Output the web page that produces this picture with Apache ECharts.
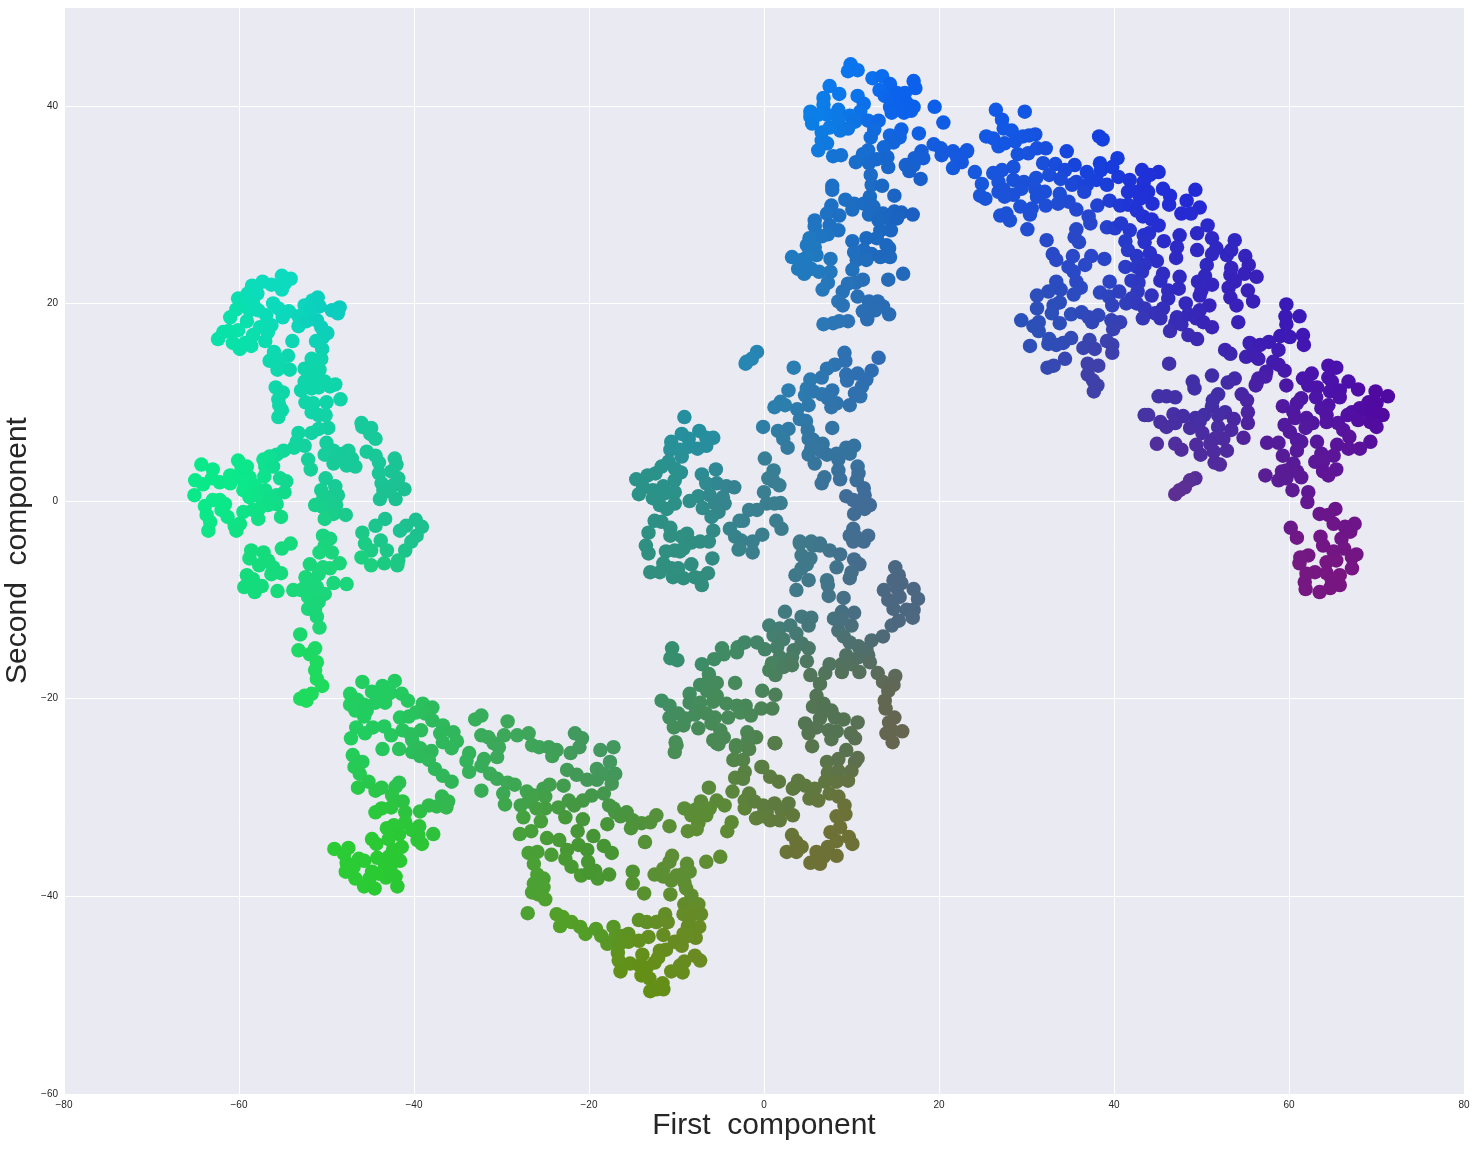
<!DOCTYPE html>
<html>
<head>
<meta charset="utf-8">
<title>First component / Second component</title>
<script src="https://cdn.jsdelivr.net/npm/echarts@6/dist/echarts.min.js"></script>
<style>
html, body { margin: 0; padding: 0; background: #fff; }
#main { width: 1476px; height: 1149px; }
</style>
</head>
<body>
<div id="main"></div>
<script>
// points, one array per blob, [first, second]
var leftTop = [[-55.1,22.8],[-54.1,22.5],[-54.8,22],[-55.1,21.4],[-56.3,21.9],[-57.3,22.2],[-58.5,21.8],[-59,21],[-57.9,21],[-60.1,20.5],[-59.1,20],[-58.4,20],[-60.3,19.4],[-61,18.6],[-58.8,19.3],[-57.8,19.3],[-56.9,18.8],[-56.1,20],[-55.5,19.5],[-54.3,19.2],[-55,18.6],[-52.5,19.8],[-51.6,20.3],[-51,20.6],[-50.8,19.7],[-51.9,19.3],[-52.5,18.8],[-53.2,18.7],[-53.2,17.7],[-52.3,18.2],[-51.1,18.3],[-50.6,17.6],[-49.9,17],[-50.4,16.6],[-51.2,16.2],[-50.5,15.4],[-50.6,14.4],[-51.7,14.4],[-49.4,19.3],[-48.5,19.6],[-48.7,19],[-56.3,17.8],[-57,17.5],[-57.6,17.6],[-59.1,18.2],[-60.1,17.3],[-61.2,17.2],[-61.8,17.1],[-62.4,16.4],[-60.7,16],[-59.9,15.4],[-59.3,16],[-58.6,15.7],[-58.4,16.8],[-57,16.2],[-56.7,17.1],[-53.9,16.2],[-56,15.1],[-56.5,14.2],[-54.4,14.7],[-55.3,14.3],[-55.6,13.3],[-54.2,13.3],[-52.5,13.4],[-51.5,13.6],[-50.8,13.3],[-51.9,12.7],[-52.5,12.1],[-51.1,12.1],[-51.7,11.4],[-52.9,11.2],[-50.2,12.1],[-49.6,11.6],[-49,11.8],[-50.9,11.5],[-55.8,11.5],[-55,11],[-55.5,10.3],[-55.1,9.2],[-55.4,9.7],[-55.5,8.5],[-52.4,10],[-51.5,9.9],[-50,10],[-48.4,10.3],[-51.7,9],[-50.9,8.7],[-50.1,8.7],[-49.8,7.4],[-50.9,7.3],[-51.7,6.9],[-53.2,6.9],[-53.4,6],[-52.5,5.6],[-53.7,5.4],[-46,7.9],[-44.9,7.4],[-45.9,7.5],[-45,6.8],[-44.4,6.3]];
var leftMid = [[-50,5.9],[-49.2,5.1],[-50.2,4.7],[-49.2,3.8],[-52.1,4.2],[-51.8,3.2],[-47.5,5.1],[-48.1,4.8],[-47.1,4.3],[-47.7,3.6],[-46.7,3.5],[-48.3,4.3],[-45.4,5],[-44.4,4.6],[-44,3.9],[-42.2,4.3],[-42,3.7],[-42.6,3],[-44,2.8],[-41.8,2.3],[-42.4,1.6],[-43.7,1.8],[-43.5,1.1],[-41.1,1.2],[-42.8,1.1],[-43.9,0.2],[-42.1,0.2],[-43,1],[-54.9,5.1],[-55.7,4.7],[-56.5,4.5],[-57.2,4.2],[-57,3.5],[-56.1,3.5],[-57.1,2.5],[-64.3,3.7],[-60.1,4.1],[-63,3.2],[-65,2.1],[-64.1,1.7],[-63.1,2.3],[-62.2,1.9],[-61,2.6],[-61,1.8],[-59.7,3.3],[-59.1,3.5],[-59.9,2.6],[-58.8,2.4],[-59.4,1.9],[-58.2,1.6],[-59.5,1.1],[-58.8,0.4],[-57.8,0.8],[-57,1.1],[-57.4,0.2],[-56.5,0.4],[-55.7,-0.3],[-56.7,-0.4],[-55.7,0.6],[-54.8,0.9],[-55.3,2.3],[-54.6,2],[-65.1,0.6],[-63.9,-0.5],[-63,0.1],[-62.2,0.1],[-61.6,-0.3],[-62,-0.9],[-61.3,-1.6],[-63.7,-1.4],[-63.3,-2.1],[-63.5,-3],[-59.5,-1.1],[-59.9,-2.3],[-60.5,-2.5],[-60.3,-3],[-57.8,-0.9],[-57.8,-1.8],[-55.2,-1.6],[-58.4,-0.9],[-50.1,2.3],[-49,1.5],[-50.6,1.1],[-48.7,0.6],[-49.6,0.4],[-50.4,0.2],[-48.9,-0.4],[-51.3,-0.4],[-50.4,-0.6],[-49.2,-1.3],[-50.2,-1.8],[-47.8,-1.4],[-43.3,-1.8],[-44.4,-2.5],[-39.8,-1.9],[-39.1,-2.6],[-40.9,-2.5],[-41.6,-3],[-39.7,-3.5],[-40.3,-4.1],[-41,-5],[-41.8,-6],[-41.9,-6.5],[-45.9,-3.2],[-45.6,-4.3],[-43.8,-4],[-44.9,-5],[-43.1,-5],[-46,-5.7],[-44.9,-6.5],[-43.4,-6.3]];
var leftLow = [[-50.4,-3.5],[-49.6,-3.8],[-50.2,-4.5],[-49.4,-5.2],[-50.8,-5.2],[-48.5,-6.3],[-51.9,-6.4],[-49.6,-6.8],[-50.4,-6.7],[-50.9,-7.4],[-52.4,-7.7],[-49.2,-8.3],[-47.7,-8.4],[-51.5,-8],[-51.1,-8.7],[-52.3,-8.4],[-53.8,-9],[-52.9,-9],[-51.5,-9.2],[-50.2,-9.4],[-52.1,-9.7],[-50.9,-10.2],[-52.1,-10.9],[-51.3,-10.9],[-51.1,-11.7],[-50.8,-12.8],[-54.1,-4.3],[-55.1,-4.8],[-58.6,-5],[-58.8,-5.8],[-57.2,-5.2],[-56.7,-6],[-57.7,-6.5],[-56.1,-6.7],[-55.2,-7.3],[-56.3,-7.4],[-59.1,-7.5],[-58.4,-7.9],[-58.8,-8.4],[-57.4,-8.6],[-59.4,-8.7],[-58.2,-9.2],[-55.6,-9.1],[-53,-13.5],[-53.2,-15.1],[-51.3,-14.9],[-51.9,-15.5],[-51.1,-16.3],[-51.3,-17.1],[-51.1,-18],[-50.5,-18.7],[-51.7,-19.5],[-52.5,-19.7],[-53,-20],[-52.3,-20.2]];
var bottomLeft = [[-45.9,-18.3],[-42.2,-18.2],[-47.3,-19.5],[-44.8,-19.3],[-43.6,-18.7],[-42.7,-19.4],[-44.2,-19.8],[-43.3,-20.4],[-44.4,-20.4],[-41.4,-19.5],[-40.7,-20.2],[-47.3,-20.6],[-46.5,-20.1],[-46.7,-21.2],[-45.7,-20.6],[-45.4,-21.2],[-45.7,-21.8],[-39,-20.5],[-37.9,-20.9],[-39.8,-21.4],[-41.6,-21.9],[-40.6,-21.8],[-38.7,-21.5],[-37.9,-22.2],[-36.7,-22.7],[-37,-23.5],[-35.5,-23.4],[-36.7,-24.4],[-35.1,-24.3],[-35.7,-25],[-46.6,-22.9],[-45.6,-23.5],[-47.2,-24],[-44.7,-22.9],[-43.4,-22.8],[-42.6,-23.7],[-41.3,-23.2],[-39.2,-23.2],[-40.4,-23.6],[-40.2,-24.2],[-43.6,-25.1],[-41.7,-25.1],[-40.2,-25.4],[-39.3,-25],[-39.3,-25.8],[-38,-25.3],[-38.3,-26.2],[-37.6,-27.1],[-36.7,-27.8],[-35.7,-28.4],[-47,-25.7],[-45.9,-26.4],[-46.8,-26.9],[-46.2,-27.6],[-45.2,-28.4],[-46.4,-29],[-44.4,-29.3],[-43.7,-29],[-41.7,-28.5],[-42.1,-28.9],[-42.5,-29.8],[-41.3,-30.4],[-42.6,-31],[-43.7,-31.1],[-44.4,-31.5],[-41,-31.5],[-41,-32.5],[-39.3,-31.4],[-38.3,-30.8],[-37.4,-30.9],[-36.8,-29.9],[-36.1,-30.4],[-36.3,-31],[-42.3,-32.8],[-43.1,-33.1],[-42.9,-34.2],[-41.7,-33.7],[-39.4,-32.9],[-40.2,-33.3],[-37.8,-33.7],[-39.6,-34.3],[-39.1,-34.7],[-39.5,-33.8],[-44.8,-34.2],[-44.3,-34.7],[-41.4,-35],[-42.4,-35.3],[-44.2,-36.1],[-42.9,-36],[-41.6,-36.4],[-42.5,-36.5],[-43.3,-36.9],[-42.7,-37.2],[-44.8,-37.5],[-42.1,-38],[-43.2,-38.1],[-44,-37.7],[-41.9,-39],[-45.1,-38.2],[-45.7,-39],[-44.5,-39.2],[-49.1,-35.2],[-47.5,-35.1],[-48,-35.7],[-47.7,-36.6],[-46.3,-36.2],[-45.7,-36.4],[-46.9,-37],[-47.8,-37.5],[-46.7,-38.2]];
var bottomMid = [[-33.7,-25.5],[-34,-26.3],[-33,-22.1],[-32.3,-21.7],[-32.3,-23.7],[-31.5,-23.9],[-29.3,-22.3],[-29.7,-23.7],[-28.2,-23.7],[-26.9,-23.5],[-26.5,-24.7],[-25.7,-24.9],[-24.6,-24.9],[-23.7,-25.2],[-24.2,-25.8],[-21.6,-23.5],[-20.8,-24],[-21.1,-24.9],[-22.1,-25.5],[-18.7,-25.2],[-17.2,-24.9],[-17.6,-26.4],[-30.9,-24.5],[-30.3,-24.9],[-30.5,-25.9],[-32,-26.1],[-32.3,-26.8],[-33.7,-27.4],[-31.3,-27.6],[-30.5,-28.1],[-29.3,-28.5],[-28.5,-28.7],[-32.3,-29.3],[-29.8,-29.6],[-29.6,-30.7],[-22.5,-27.2],[-22.9,-28.8],[-21.4,-27.7],[-20.2,-28.2],[-19.1,-27.1],[-18.3,-27.6],[-19.1,-28.2],[-17,-27.6],[-17.4,-28.6],[-18.3,-29.6],[-19.7,-29.8],[-20.7,-30.3],[-22.3,-30.3],[-21.7,-30.8],[-23.5,-31],[-22.7,-32],[-17.7,-30.8],[-17,-31.5],[-17.9,-32.7],[-20.7,-32.2],[-27.1,-29.4],[-25.2,-29.1],[-24.5,-28.7],[-26.3,-29.8],[-27.8,-30.8],[-26.9,-30.4],[-25,-29.9],[-25,-31.1],[-26,-31.1],[-27.5,-32],[-25.5,-32.4],[-26.6,-33.4],[-27.9,-33.7],[-24.8,-34.1],[-23.4,-34.3],[-24.3,-35.8],[-22.5,-35.3],[-21.3,-33.4],[-21.2,-34.8],[-20.2,-35.3],[-19.5,-33.9],[-18.3,-34.9],[-17.4,-35.6],[-22.7,-36.2],[-22,-37],[-20.1,-36.5],[-20.9,-37.9],[-19.3,-37.4],[-19,-38.2],[-17.7,-37.8],[-20,-37.6],[-26.9,-35.6],[-25.9,-35.5],[-26.3,-36.7],[-25.9,-37.8],[-25.2,-38.2],[-26.3,-38.7],[-25.2,-39.1],[-26.5,-39.6],[-25.8,-39.8],[-25,-40.3],[-27,-41.7]];
var bottomLow = [[-23.7,-41.8],[-23,-42.1],[-23.3,-43],[-22,-42.6],[-21,-43.1],[-20.4,-43.8],[-19.2,-43.3],[-18.6,-44],[-17.9,-44.8],[-17.2,-43.1],[-17,-44.1],[-16.2,-44],[-15.5,-43.8],[-15.5,-44.6],[-14.3,-44.5],[-16.5,-44.8],[-16.7,-45.7],[-16.6,-46.5],[-16.4,-47.6],[-15.3,-46.8],[-14.2,-47],[-13.9,-45.9],[-14,-48],[-13.1,-48.3],[-13.4,-47.2],[-12.5,-46.7],[-11.9,-45.5],[-11.2,-45.4],[-12.1,-46.2],[-13,-49.6],[-12.3,-49.4],[-11.5,-49.4],[-11.6,-48.8],[-10.6,-47.6],[-9.3,-47.7],[-9.6,-47],[-9.1,-46.6],[-7.9,-46],[-7.3,-46.5],[-14.3,-42.4],[-13.4,-42.6],[-12.3,-42.6],[-11.3,-41.8],[-11,-42.6],[-13.2,-44.1],[-11.5,-43.9],[-15,-37.5],[-15,-38.7],[-13.7,-39.7],[-12.5,-37.8],[-11.5,-37.2],[-10.8,-36.5],[-10.5,-35.9],[-11.5,-38],[-10.6,-38.4],[-10.7,-39.8],[-10,-37.9],[-9.2,-37.7],[-8.8,-36.7],[-8.5,-37.5],[-9.1,-38.6],[-8.9,-39.2],[-8.3,-39.9],[-9.1,-40.8],[-7.5,-40.8],[-9.2,-41.8],[-8.1,-41.3],[-7.2,-41.8],[-8.5,-42.1],[-7.4,-43.1],[-8.7,-43],[-9.2,-43.8],[-7.8,-44.2],[-10.2,-44.6],[-9.4,-45],[-8.7,-44],[-6.6,-36.5],[-5,-36]];
var centerLow = [[-17.2,-31.1],[-15.7,-31.5],[-16.4,-31.9],[-15,-32.3],[-15.2,-33.1],[-14,-32.6],[-13,-32.5],[-12.3,-31.8],[-13.6,-34.5],[-10.8,-32.9],[-9.1,-31.1],[-7.2,-30.4],[-7.8,-31.2],[-8.3,-31.8],[-7.5,-32.6],[-8.7,-33.4],[-7.7,-33.2],[-6.6,-31.8],[-6.2,-31.1],[-5.4,-30.3],[-4.5,-30.8],[-6.3,-29],[-3.6,-29.4],[-3.7,-32.5],[-4.2,-33.4],[-3.5,-26.2],[-2.4,-26.2],[-2.2,-27.4],[-3.3,-28],[-2.4,-28.1],[-0.2,-26.9],[0.7,-27.9],[1.7,-28.4],[-3.2,-24.7],[-1.8,-25],[1.2,-24.5],[-1.7,-29.6],[-2.2,-30.3],[-2.2,-31.1],[-1.1,-30.4],[-0.1,-30.8],[-0.9,-32.1],[0.3,-31.5],[0.7,-32.3],[1.2,-30.6],[2,-31.3],[1.8,-32.3],[2.8,-30.6],[3.3,-31.8],[-0.3,-31.9],[3.3,-29.1],[3.9,-28.3],[3.2,-33.8],[2.6,-35.5],[3.7,-35.5],[-10.2,-25.4],[-10,-24.7],[-5.4,-24.5],[-10.5,-14.9],[-10.7,-15.9],[-9.9,-16.1],[-7.1,-16.5],[-5.7,-16],[-4.8,-14.9],[-4.6,-15.5],[-3.1,-15.3],[-3,-14.8],[-2.2,-14.3],[-0.8,-14.3],[0.1,-15],[-6.3,-17.5],[-7.3,-18.6],[-5.4,-18.4],[-6.4,-18.3],[-6.5,-19.2],[-5.4,-19.7],[-8.5,-19.5],[-8.5,-20.4],[-7.3,-20.4],[-5.8,-20.3],[-3.3,-18.4],[-11.7,-20.2],[-10.8,-20.7],[-10.8,-21.9],[-9.8,-21.5],[-10.3,-22.9],[-9.2,-22.7],[-7.9,-21.6],[-9,-22],[-7.5,-23],[-6.6,-21.5],[-5.6,-21.9],[-6,-22.5],[-4.1,-21.9],[-5,-23.2],[-5.8,-24.2],[-5.2,-24.6],[-4.6,-23.9],[-4.3,-20.5],[-3.1,-20.7],[-2.1,-20.7],[-2.7,-21.4],[-1.5,-21.7],[-0.3,-21],[0.95,-21],[-0.2,-19.2],[1.3,-19.6],[-10.1,-24.4],[-1.9,-23.4],[-0.9,-23.9],[-1.8,-24.1],[-3.2,-24.9],[-1.7,-25.1],[1.3,-24.5],[-3.4,-26.2],[-0.3,-26.9]];
var centerRing = [[2.4,-11.2],[4.3,-11.7],[5.4,-11.8],[5.1,-12.6],[0.6,-12.6],[1.8,-12.9],[3,-12.6],[1.1,-13.6],[3.7,-13.4],[2.2,-14],[4.3,-14.4],[5.1,-14.9],[1.5,-14.8],[3.4,-15.1],[1.8,-15.8],[3.2,-15.8],[0.9,-16.4],[0.6,-17.1],[1.3,-17.6],[2.2,-16.8],[3.2,-16.6],[4.9,-16.2],[5.3,-17.6],[7,-17.4],[7.5,-16.5],[8.9,-17.3],[8.9,-16.5],[9.4,-15.6],[10,-16.5],[10.9,-17.3],[10.8,-15.8],[11.9,-15.6],[12.1,-16.3],[11.7,-15],[10.8,-14.7],[12.3,-14.1],[13.6,-13.7],[14.6,-12.6],[15.4,-12.1],[6.4,-18.5],[6,-19.7],[5.6,-20.8],[6.8,-20.5],[6.8,-21.3],[7.7,-21.2],[6.4,-22],[8.1,-21.9],[9.1,-22.1],[10.7,-22.4],[4.7,-22.5],[5.1,-23.5],[5.5,-24.8],[6,-22.9],[7.4,-23.2],[8.3,-23.3],[7.7,-24.1],[9.9,-23.5],[10.4,-24],[9.4,-25.2],[7.2,-26.4],[8.5,-26.1],[10.4,-26.4],[10.7,-26],[7.3,-27.5],[8.5,-27.3],[10,-27.3],[7,-28.4],[8.3,-28.4],[9.6,-28.3],[3.4,-29],[4.7,-28.8],[5.8,-29.1],[5.2,-30.1],[6.2,-30.3],[7.5,-29.6],[8.5,-29.9],[9.2,-30.8],[9.3,-31.7],[8.3,-31.9],[8.7,-33],[7.6,-33.5],[9.7,-34],[10.1,-34.7],[7.3,-35],[8.3,-34.4],[8.3,-35.9],[6,-35.5],[6.8,-36],[5.3,-36.6],[6.4,-36.7],[3.7,-34.5],[4.3,-35],[3.7,-35.4]];
var rightArc = [[4.3,-5.5],[4.1,-4.3],[5.6,-4.5],[6.4,-4.3],[5.3,-5.8],[4.9,-6.4],[3.6,-7.5],[4.3,-6.8],[5.1,-8],[3.7,-9],[7.5,-5],[8.7,-5.4],[8.3,-6.7],[10.3,-5.9],[10.9,-6.4],[10,-7.2],[9.8,-7.8],[7.2,-8],[7.3,-8.5],[7.4,-9.6],[9.1,-9.8],[15,-6.7],[15.4,-7.5],[14.8,-8],[15.7,-8.3],[13.7,-9],[15.2,-8.8],[17.1,-8.9],[17.6,-9.9],[15.5,-9.7],[14.2,-10],[14.8,-10.9],[16.3,-11],[17.1,-11],[17,-11.8],[8.9,-11.2],[8,-11.9],[10.3,-11.3],[10,-12.6],[8.5,-13.1],[9.1,-13.7],[9.8,-14.3],[8.9,-12],[13,-17.4],[15,-17.7],[13.6,-18.3],[14.8,-18.6],[14.2,-19.2],[13.8,-20.2],[13.9,-21],[14.9,-21.9],[14.3,-22.4],[15.8,-23.3],[14,-23.5],[14.6,-23.2],[14.7,-24.4]];
var centerUp = [[-0.8,15.1],[-1.4,14.4],[-2.1,13.9],[-2,14.1],[3.4,13.5],[9.2,15],[9.3,14.2],[8.1,13.8],[7.2,13.4],[13.1,14.5],[12.3,13.2],[9.4,12.8],[9.5,12.2],[10.7,12.9],[11.7,12.3],[11.2,11.6],[10.4,10.9],[11,10.6],[9.8,9.7],[6.6,12.5],[5.3,12.3],[4.9,11.4],[4.7,10.7],[5.6,11.1],[6.6,10.8],[7.8,11.2],[7.3,10.4],[8.3,9.9],[7.7,9.5],[5.1,9.7],[2.8,11.2],[1.9,10.05],[2.4,9.7],[1.2,9.5],[3.8,9.3],[4.1,8.3],[4.8,8.1],[5,7.2],[7.8,7.4],[5.1,6.3],[5.6,6.2],[6.7,5.8],[5.4,5.3],[5.1,4.7],[6.6,5],[5.8,3.8],[7.2,4.7],[8.3,4.8],[8.5,4.2],[9.4,5.4],[10.3,5.6],[9.8,4.8],[8.5,3.1],[8.7,2.2],[10.7,3.5],[10.8,2.8],[10.6,2.1],[11.4,1.3],[11.5,0.6],[6.9,2.4],[6.6,1.8],[9.4,0.5],[10.2,0.1],[11,-0.4],[12.1,-0.4],[11.5,-0.8],[10.3,-1.3],[10.2,-2.8],[9.8,-3.5],[11.9,-3.5],[10.5,-3.6],[11.4,-4.1],[10.2,-4.1],[-0.1,7.5],[1.6,7.1],[2.8,7.3],[2.2,6.3],[2.7,5.4],[0.1,4.3],[1.1,3.1],[0.5,2.3],[1.75,1.6],[1.1,2],[0,0.9],[0.3,-0.25],[1.2,-0.25],[1.9,-0.2],[1.4,-2],[2,-2.8],[-0.2,-3.4],[-0.8,-0.9],[-1.7,-0.9],[-2.4,-2],[-2.8,-2],[-3.9,-2.8],[-3.3,-3.6],[-2.6,-4],[-1.3,-4.1],[-2.9,-4.9],[-1.3,-5.2],[4.1,-4.1],[5.4,-4.1],[6.4,-4.5]];
var centerLeft = [[-9.1,8.5],[-7.4,7.1],[-9.4,6.8],[-10.6,6],[-8.6,6.3],[-6.6,6.4],[-5.8,6.4],[-6.6,5.6],[-7.6,5.3],[-8.6,5.5],[-10.7,5.2],[-9.6,5.2],[-9.4,4.5],[-10.9,4],[-11.7,3.5],[-9.5,2.9],[-10.2,3.3],[-12.4,2.8],[-13.3,2.6],[-14.6,2.2],[-10.2,2.1],[-11.5,1.5],[-12.7,1.1],[-13.8,1.4],[-14.3,0.7],[-10.2,0.9],[-11.3,0.8],[-12.7,0.3],[-10.2,-0.25],[-11.9,-0.4],[-11.1,-0.8],[-5.5,3.2],[-7.1,2.7],[-6.6,1.8],[-5.4,1.8],[-4.3,1.5],[-3.4,1.4],[-7.5,0.5],[-8.5,0],[-6.2,0.6],[-4.7,0.4],[-5.6,-0.25],[-4.5,-0.25],[-7,-0.7],[-5.2,-1.1],[-6,-1.6],[-12.5,-2],[-11.7,-2.1],[-13.2,-3.2],[-10.7,-2.7],[-10.7,-3.5],[-13.5,-4.5],[-13.2,-5.3],[-11.2,-5.1],[-8.8,-3.3],[-9.4,-3.6],[-8.3,-4.2],[-7.3,-4.1],[-6.3,-4.1],[-5.8,-3],[-9.2,-4.8],[-10.2,-5],[-5.9,-5.8],[-9.6,-5.1],[-8.3,-6.4],[-11.5,-6.3],[-10.6,-6.8],[-13,-7.2],[-11.9,-7.2],[-10.4,-7.7],[-9.2,-7.8],[-7.9,-7.7],[-6.4,-7.3],[-7.1,-8.5],[-7.2,-7.8],[-9.8,-6.8],[-2.8,-4.8]];
var topBlob = [[9.9,44.2],[9.6,43.5],[10.7,43.6],[12.4,42.8],[13.5,43],[17.1,42.5],[17.3,41.8],[14.4,42.2],[13.2,41.6],[15.2,41.3],[16.1,41.3],[13.8,41],[14.6,40.6],[15.7,40.6],[16.3,40.3],[14.4,39.9],[15.4,39.8],[17.1,39.9],[14.6,39.3],[16,39.3],[16.8,39.5],[7.5,42],[8.6,41.2],[6.8,40.8],[6.8,40.1],[10.7,41],[11.4,40.2],[8.5,39.6],[11,39.4],[5.3,39.4],[5.3,38.9],[7.2,39.1],[6.2,39.1],[5.5,38.2],[9.8,39],[8.5,38.6],[10.4,38.4],[9.6,37.7],[8.7,37.5],[7.5,37.8],[6.6,37.3],[6.6,36.5],[7.2,36.2],[6.2,35.5],[7.9,34.9],[8.8,35],[11.9,38.5],[13.1,38.5],[12.6,37.6],[12.2,36.8],[15.7,37.6],[14.4,37],[15.5,36.8],[14.8,36.3],[13.7,35.8],[17.7,37.2],[19.5,39.9],[20.5,38.3],[19.4,36.1],[20.2,35.7],[20.3,35],[21.6,35.4],[22.6,35],[23.2,35.5],[22.1,34.7],[21.6,33.7],[18,35.4],[18.2,34.7],[17.2,34.7],[16.2,34],[17.1,34],[16.6,33.4],[17.9,32.6],[11.9,35.5],[11.3,35.1],[10.5,34.3],[12,34.2],[12.9,34.6],[14.1,34.8],[14.2,33.8],[12.2,33],[12.3,32],[13.5,31.9],[14.9,30.9],[7.8,31.9],[7.8,31.5],[9.3,30.5],[10.1,29.5],[10.3,30.1],[11.4,30.1],[12.1,30.8],[12.5,29.8],[12,29]];
var midBlob = [[13.6,29.1],[14.9,29.3],[15.7,29.2],[17,29],[14.2,28.6],[15.2,28.6],[13.1,28.4],[13.3,27.4],[14.5,27.4],[11.7,26.6],[12.9,26.6],[10.1,26.3],[14,25.9],[14.3,25.6],[11.4,25.4],[10.3,25.2],[12.3,25],[13.3,24.7],[14.4,24.7],[10.6,24.4],[11.7,24.4],[10.1,23.4],[7.7,29.9],[7.2,29.1],[8.6,28.9],[5.8,28.4],[5.8,27.8],[8.5,27.4],[7.5,27.9],[7.3,27],[6.6,26.8],[5.2,26.6],[4.9,25.9],[5.8,25.7],[6,24.9],[4.9,24.7],[3.2,24.7],[4.3,24.4],[7.6,24.5],[3.9,23.5],[4.6,23],[5.4,23.5],[6.3,23.2],[7.6,23.2],[15.9,23],[14.2,22.4],[7.3,22.1],[6.7,21.4],[11.3,22.4],[10.5,22.1],[9.6,22],[9,21.2],[8.5,20.2],[9,19.8],[10.7,20.7],[12,20.2],[13,20.2],[13.6,19.7],[11.3,19.2],[12.7,19.3],[14.3,18.9],[11.8,18.4],[9.6,18.2],[8.6,18.2],[7.9,18],[6.8,17.9]];
var armUpper = [[26.5,39.6],[29.8,39.4],[27.2,38.6],[27.4,37.7],[28.3,37.5],[25.4,36.9],[26.2,36.7],[26.8,35.9],[27.5,36.2],[28.7,36.4],[29.6,36.9],[31,37.1],[30.3,37],[29,35.1],[30.2,35.2],[31.2,35.7],[32.2,35.7],[34.6,35.4],[38.3,36.9],[38.7,36.6],[40.4,34.7],[23.2,35.4],[22.6,34.3],[24.1,33.3],[26.2,33.2],[27.2,33.5],[28.5,33.8],[24.9,32.1],[26.8,32.3],[28.5,32.5],[29.7,32.3],[27.4,31.5],[26.8,31.3],[28.5,31],[29.4,31.6],[24.7,30.9],[25.3,30.6],[27.5,30.8],[31.9,34.2],[33.3,34.1],[35.5,34],[34.4,33.5],[36.9,33.3],[38.4,34.2],[38.5,33.5],[39.8,33.8],[43.2,33.5],[45.1,33.3],[44.1,33],[32.6,33],[33.9,32.6],[31.1,32.7],[35.7,32.3],[35.2,32],[36.9,32],[38,32.5],[39.2,32],[40.5,32.8],[41.8,32.5],[43.4,32.3],[31,31.6],[32.1,31.3],[36.6,31.3],[41.6,31.3],[42.6,31.3],[43.9,31.3],[45.6,31.6],[49.3,31.5],[46.4,30.9],[31.2,30.8],[33.8,31.1],[34.8,30.3],[33.6,30.1],[32.2,29.9],[30.6,29.6],[29.3,29.8],[30.4,29],[35.7,29.5],[38.1,29.9],[39.5,30.4],[40.7,29.9],[41.6,30],[43,30.6],[42.6,29.4],[44.4,30.1],[46.3,30],[48.3,30.4],[49.8,29.7],[47.7,29.1],[48.8,29.1],[27,28.9],[28.1,28.4],[27.7,29.1],[30.1,27.5],[32.3,26.4],[37.1,28.8],[37.3,28.1],[35.7,27.5],[35.5,26.7],[36,26.2]];
var armMid = [[39.2,27.7],[40.1,27.6],[40.8,28.1],[41.8,27.4],[43.3,28.8],[44.3,28.5],[45.1,27.9],[43.4,26.9],[44,27.1],[43.5,26.2],[41.3,26.3],[45.7,26.3],[47.5,26.9],[47.2,25.7],[49.5,27.1],[50.7,27.9],[51.2,26.6],[53.8,26.4],[49.5,25.4],[51.7,25.6],[51.2,25],[52.9,24.9],[53.4,25.4],[33,25],[33.4,24.4],[35.3,24.8],[37.4,24.8],[38.9,24.5],[36.7,23.9],[34.8,23.7],[35.4,23.2],[41.6,25.4],[42.6,24.8],[44.1,25.1],[44.9,24.3],[47.1,24.6],[43.5,23.9],[41.3,23.7],[42.6,23.7],[43.2,23.2],[50.6,23.9],[55,24.8],[55.4,23.9],[53.4,23.6],[45.6,23],[45.3,22.3],[47.5,22.7],[42,22.3],[42.8,22.1],[39.5,22.2],[35.7,22.2],[36.2,21.6],[33.4,22.2],[50.4,22.8],[49.6,22.2],[51.2,21.9],[50,21.3],[49.8,20.8],[53.3,22.9],[53.8,22.2],[53.1,21.6],[53.3,20.6],[55.3,21.3],[55.9,20.2],[54,19.8],[54.9,23],[56.3,22.7]];
var armLower = [[32.5,21.2],[33.9,21.4],[31.2,20.8],[35.4,20.9],[33.8,20.1],[33.1,19.8],[31.2,19.5],[32.9,19],[38.4,21.1],[39.4,20.7],[40.6,21.2],[39.8,19.8],[42.7,21.2],[42,20.5],[41.4,20],[42.6,20],[44.3,20.8],[46.2,21.3],[47.4,21.5],[46.2,20.5],[48.2,20],[50.9,19.8],[35.1,18.9],[36.3,19.1],[37.1,18.6],[38.2,18.8],[37.5,18.1],[39.7,18.3],[40.7,18.1],[39.9,17.4],[43.5,19.5],[45.6,19.5],[44.7,19],[43.3,18.5],[45.3,18.5],[47.2,18.6],[47,18],[46.4,17.2],[47.7,17.9],[49.8,19.3],[48.5,18.9],[49.4,18.5],[50.2,18.1],[51.2,17.6],[48.5,16.8],[49.5,16.4],[54.2,18.1],[29.4,18.3],[33.8,18],[31.4,18.1],[30.8,17.7],[31.4,17.2],[32.6,16.4],[35.1,16.5],[34.2,16],[33.4,15.8],[32.5,15.9],[30.4,15.7],[37.2,16.3],[36.5,15.5],[37.8,15.4],[39.2,16.2],[39.8,15.8],[39.8,15],[34.4,14.4],[33.1,13.7],[32.4,13.5],[37,13.9],[38.2,13.7],[37,12.8],[37.6,12.2],[38.1,11.7],[37.7,11.1],[52.7,15.3],[53.3,14.9],[55.6,15.9],[55.1,14.6],[56.1,14.7],[46.3,13.9],[51.2,12.7],[49,12.1],[49.2,11.4],[53.8,12.4],[53,12],[56.3,11.9]];
var rightTop = [[59.7,19.9],[59.6,18.7],[61.2,18.7],[59.7,17.9],[59,16.7],[60.1,16.6],[61.6,16.8],[61.7,15.8],[55.5,16],[56.7,15.8],[57.7,16.1],[58.8,15.3],[56.5,14.4],[58.2,14.1],[58.8,13.8],[59.5,13.2],[57.4,13.1],[56.5,12.4],[56.2,11.7],[57.3,12.6],[59.7,11.7],[64.5,13.7],[65.4,13.5],[64.5,12.5],[64.9,12.1],[62.6,12.9],[61.6,12.4],[62.2,11.7],[63.2,11.5],[66.8,12.1],[67.9,11.3],[69.9,11.1],[71.3,10.6],[64.7,11.1],[65.8,11.2],[65.8,10.5],[63.1,10.5],[61.4,10.4],[60.9,9.9],[59.3,9.6],[60.5,9],[60.7,8.4],[59.5,7.7],[60.1,7],[62,8.4],[62.7,7.9],[61.9,7.4],[64.5,9.7],[63.7,9.4],[64.3,8.7],[64.3,8],[65.6,7.9],[66.2,7.2],[66.9,6.5],[69.3,6],[68.1,5.3],[66.8,5.3],[65.5,5.7],[63.2,6],[61.4,6],[60.9,6.2],[60.9,5.1],[67.2,9],[66.7,8.7],[68.1,9.4],[69.1,10],[70,9.9],[67.9,8.2],[68.9,9.2],[69.4,8.7],[70.7,8.7],[69.3,8],[70,7.5],[69.7,9.2],[57.5,5.9],[58.8,5.9],[59.3,4.6],[63.7,4.8],[65.1,4.6],[63,3.97],[63.9,4],[65.4,3.2],[63.9,3],[64.5,2.6],[60.5,3.8],[59.2,3],[59.7,3.1],[57.3,2.6],[58.8,2.1],[59.7,2.3],[60.9,3],[61.4,2.4],[60.4,1.1],[62.2,0.9],[62.1,-0.1]];
var rightMid = [[43.5,8.7],[43.9,8.7],[45.1,10.6],[46,10.6],[47,10.5],[46.8,8.8],[47.9,8.6],[45.3,8],[46,7.5],[47,7.9],[44.9,5.8],[47,5.8],[47.7,5.2],[51.9,10.8],[51.3,10.2],[54.6,10.8],[55.2,10.2],[51.2,9.6],[52.7,9],[51.9,8.7],[55.3,9],[53.7,8.3],[55.3,7.9],[50.3,8.7],[49.3,8.4],[48.7,7.4],[49.8,8.1],[51.9,7.5],[53.4,7.2],[50.1,6.9],[54.8,6.4],[52.5,6.3],[51.5,6.3],[49.4,5.7],[51,5.8],[52.9,5.1],[51.4,5],[49.9,4.7],[51.5,3.9],[52.1,3.7],[49.3,2.3],[48.7,2.1],[48.1,1.4],[47.5,1.1],[47,0.7]];
var rightLow = [[65.3,-0.8],[63.5,-1.3],[64.5,-1.4],[65.1,-2.3],[67.5,-2.3],[66.4,-2.6],[67,-3.1],[66,-3.8],[60.2,-2.7],[60.9,-3.7],[63.6,-3.6],[63.9,-4.5],[65.1,-5.1],[66.3,-4.8],[67.7,-5.4],[62.2,-5.5],[61.3,-5.7],[61.2,-6.3],[64.3,-6.2],[65.4,-6],[67.2,-5.7],[67.2,-6.8],[62.97,-7.2],[62,-7.35],[61.8,-8.2],[61.9,-8.9],[64.3,-7.3],[65.8,-7.5],[64.9,-8],[65.8,-8.5],[64.7,-8.8],[63.5,-9.2]];

var points = [].concat(leftTop, leftMid, leftLow, bottomLeft, bottomMid, bottomLow, centerLow, centerRing, rightArc, centerUp, centerLeft, topBlob, midBlob, armUpper, armMid, armLower, rightTop, rightMid, rightLow);

// colour samples from the picture, points take a blend of the nearest ones
var colorSamples = [[-55,22,'#0cdcc0'],[-49,19.5,'#0ccbbf'],[-62,17,'#08e3a8'],[-51,12,'#0fd6aa'],[-63,2,'#0aea8a'],[-45,5,'#18c99a'],[-41,1,'#1dbf90'],[-50,-9,'#1bd67a'],[-58,-8,'#14dc7c'],[-52,-19,'#1edc5c'],[-44,-20,'#22cc60'],[-36,-24,'#2eb85c'],[-46,-37,'#2acc34'],[-42,-38,'#2ac832'],[-30,-24,'#3ea65a'],[-26,-39,'#4aa236'],[-20,-36,'#449432'],[-23,-42,'#55a024'],[-13,-49,'#648f14'],[-8,-45,'#6a8a22'],[-8,-36,'#5e8f36'],[-18,-25,'#429860'],[-10,-15,'#348f70'],[-5,-20,'#478a58'],[-5,-35,'#5d8b30'],[5,-36,'#6e7034'],[9,-34,'#707035'],[3,-30,'#5c7a40'],[8,-22,'#527454'],[15,-23,'#666450'],[15,-8,'#4d6680'],[5,-5,'#3f7a88'],[-10,-5,'#2f8f80'],[-13,2,'#2a9388'],[-9,8,'#2590a0'],[-1,15,'#2688b4'],[3,13,'#2b7fb0'],[10,13,'#2e70b0'],[13,14.5,'#2f68b4'],[9,5,'#33759f'],[0,0,'#3a8090'],[10,-3,'#446e90'],[11,0,'#40699a'],[7,18,'#2e79b8'],[12,19,'#2a6cb0'],[5,24,'#1f7cc0'],[13,28,'#1a68c0'],[10,30,'#1e70c4'],[17,29,'#1a5cc0'],[5,39,'#0a80e8'],[10,44,'#0a75f0'],[17,41,'#0a60ee'],[23,35,'#1558e0'],[27,38,'#1058e8'],[38,36.7,'#1240e0'],[30,32,'#1c50d8'],[45,33,'#1e30d8'],[49,31.5,'#2228d8'],[35,25,'#2a48c8'],[32,19,'#2c50b8'],[38,12,'#4040a8'],[50,25,'#3028c0'],[55,20,'#3820b8'],[60,19,'#3a18b8'],[65,13,'#4a10ae'],[71,10,'#5008a0'],[50,10,'#3f30a8'],[47,1,'#603090'],[50,5,'#4e2ca0'],[58,3,'#5a1f90'],[65,3,'#5e1498'],[60,7,'#50189f'],[62,-7,'#741a80'],[65,-8,'#7c1480'],[66,-2,'#6e1488']];

function hexPart(c, i) { return parseInt(c.substr(1 + i * 2, 2), 16); }

function colorAt(x, y) {
  var r = 0, g = 0, b = 0, sum = 0;
  colorSamples.forEach(function (s) {
    var dx = x - s[0], dy = y - s[1];
    var w = 1 / Math.pow(dx * dx + dy * dy + 16, 2);
    r += w * hexPart(s[2], 0);
    g += w * hexPart(s[2], 1);
    b += w * hexPart(s[2], 2);
    sum += w;
  });
  return 'rgb(' + Math.round(r / sum) + ',' + Math.round(g / sum) + ',' + Math.round(b / sum) + ')';
}

function tickText(v) { return String(v).replace('-', '\u2212'); }

var chart = echarts.init(document.getElementById('main'), null, { renderer: 'canvas' });

var option = {
  animation: false,
  textStyle: { fontFamily: '"Liberation Sans", Arial, sans-serif' },
  grid: {
    show: true,
    left: 64,
    right: 12,
    top: 7,
    bottom: 55,
    borderWidth: 0,
    outerBoundsMode: 'none',
    backgroundColor: '#eaeaf2'
  },
  xAxis: {
    type: 'value',
    min: -80,
    max: 80,
    interval: 20,
    name: 'First  component',
    nameLocation: 'middle',
    nameGap: 17,
    nameMoveOverlap: false,
    nameTextStyle: { fontSize: 30, color: '#262626' },
    axisLine: { show: false },
    axisTick: { show: false },
    axisLabel: { fontSize: 10, color: '#262626', margin: 6, formatter: tickText },
    splitLine: { show: true, lineStyle: { color: '#fff', width: 1 } }
  },
  yAxis: {
    type: 'value',
    min: -60,
    max: 50,
    interval: 20,
    name: 'Second  component',
    nameLocation: 'middle',
    nameGap: 31,
    nameMoveOverlap: false,
    nameTextStyle: { fontSize: 30, color: '#262626' },
    axisLine: { show: false },
    axisTick: { show: false },
    axisLabel: { fontSize: 10, color: '#262626', margin: 6, showMaxLabel: false, formatter: tickText },
    splitLine: { show: true, lineStyle: { color: '#fff', width: 1 } }
  },
  series: [{
    type: 'scatter',
    symbolSize: 14.5,
    silent: true,
    data: points,
    itemStyle: {
      opacity: 1,
      color: function (p) { return colorAt(p.value[0], p.value[1]); }
    }
  }]
};

chart.setOption(option);
</script>
</body>
</html>
